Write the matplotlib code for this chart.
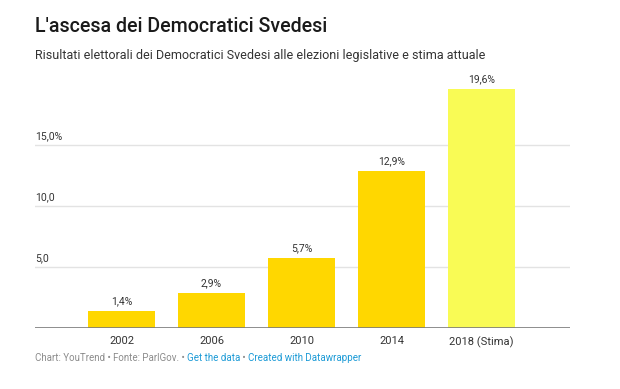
import matplotlib
matplotlib.use("Agg")
import matplotlib.pyplot as plt
import numpy as np

plt.rcParams["font.family"] = ["Roboto", "DejaVu Sans"]

years = ["2002", "2006", "2010", "2014", "2018 (Stima)"]
values = [1.4, 2.9, 5.7, 12.9, 19.6]
bar_colors = ["#FFD700", "#FFD700", "#FFD700", "#FFD700", "#F9FB55"]
tick_vals = [5, 10, 15]
tick_labels = ["5,0", "10,0", "15,0%"]

fig = plt.figure(figsize=(6.2, 3.89), dpi=100)
ax = fig.add_axes([35 / 620, 1 - 328 / 389, 535 / 620, 244 / 389])

x = np.arange(len(years))
ax.bar(x, values, width=0.74, color=bar_colors, zorder=2)
ax.set_xlim(-0.96, 4.98)
ax.set_ylim(0, 20)

for t, lab in zip(tick_vals, tick_labels):
    ax.axhline(t, color="#e3e3e3", lw=1, zorder=1)
    ax.text(-0.96, t + 0.35, lab, fontsize=7.5, color="#333333", ha="left", va="bottom")
ax.axhline(0, color="#7a7a7a", lw=1.2, zorder=3)

for xi, v in zip(x, values):
    ax.text(xi, v + 0.4, f"{v:.1f}%".replace(".", ","), fontsize=7.5, color="#333333",
            ha="center", va="bottom")

ax.set_xticks(x)
ax.set_xticklabels(years, fontsize=8, color="#333333")
ax.tick_params(axis="x", length=0, pad=6)
ax.set_yticks([])
for s in ax.spines.values():
    s.set_visible(False)

fig.text(35 / 620, 1 - 27 / 389, "L'ascesa dei Democratici Svedesi", fontsize=14.1,
         fontweight="medium", color="#1a1a1a", va="center")
fig.text(35 / 620, 1 - 55 / 389, "Risultati elettorali dei Democratici Svedesi alle elezioni legislative e stima attuale",
         fontsize=9, color="#333333", va="center")

# footer pieces
pieces = [("Chart: YouTrend • Fonte: ParlGov. • ", "#8c8c8c"),
          ("Get the data", "#1b9ad6"),
          (" • ", "#8c8c8c"),
          ("Created with Datawrapper", "#1b9ad6")]
renderer = fig.canvas.get_renderer()
xpos = 35
for txt, col in pieces:
    t = fig.text(xpos / 620, 1 - 358 / 389, txt, fontsize=7, color=col, va="center")
    xpos += t.get_window_extent(renderer).width

fig.savefig("out.png", dpi=100)
